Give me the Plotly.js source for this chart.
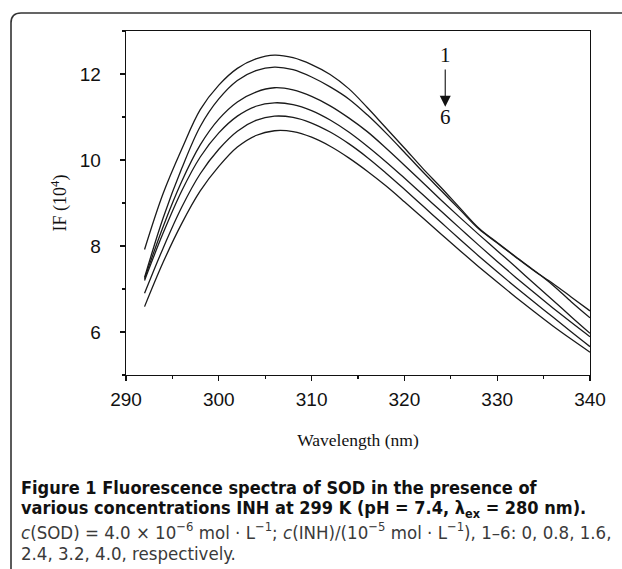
<!DOCTYPE html>
<html>
<head>
<meta charset="utf-8">
<script src="https://cdn.plot.ly/plotly-3.0.1.min.js"></script>
<style>
html,body{margin:0;padding:0;background:#fff;}
#chart{width:622px;height:569px;}
</style>
</head>
<body>
<div id="chart"></div>
<script>
// Wavelength (nm)
const wavelength = [292,294,296,298,300,302,304,306,308,310,312,314,316,318,320,322,324,326,328,330,332,334,336,338,340];
// IF (10^4), curves 1..6
const curve1 = [7.92,9.22,10.25,11.17,11.74,12.13,12.35,12.44,12.38,12.22,11.99,11.66,11.22,10.75,10.28,9.80,9.35,8.88,8.42,8.08,7.75,7.43,7.09,6.70,6.33];
const curve2 = [7.27,8.65,9.80,10.78,11.42,11.85,12.08,12.16,12.10,11.93,11.70,11.42,11.05,10.63,10.18,9.72,9.28,8.84,8.40,8.07,7.74,7.42,7.13,6.81,6.49];
const curve3 = [7.24,8.45,9.50,10.35,10.95,11.35,11.58,11.68,11.63,11.48,11.26,10.98,10.66,10.28,9.88,9.47,9.06,8.66,8.27,7.89,7.51,7.12,6.74,6.35,5.97];
const curve4 = [7.20,8.30,9.28,10.07,10.63,11.02,11.25,11.33,11.29,11.15,10.93,10.65,10.32,9.96,9.58,9.19,8.80,8.41,8.02,7.64,7.27,6.91,6.56,6.22,5.89];
const curve5 = [6.90,7.95,8.90,9.68,10.25,10.67,10.92,11.02,10.99,10.86,10.65,10.38,10.06,9.70,9.32,8.93,8.54,8.15,7.77,7.40,7.04,6.69,6.35,6.00,5.66];
const curve6 = [6.59,7.62,8.52,9.28,9.85,10.30,10.57,10.68,10.66,10.53,10.32,10.05,9.74,9.40,9.03,8.65,8.27,7.89,7.52,7.16,6.81,6.47,6.14,5.83,5.53];
const curves = [curve1,curve2,curve3,curve4,curve5,curve6];
const curveNames = ['1','2','3','4','5','6'];

const traces = curves.map((c,i)=>({
  x: wavelength, y: c, type:'scatter', mode:'lines', name: curveNames[i],
  line:{color:'#1a1a1a', width:1.3, shape:'spline', smoothing:1},
  showlegend:false, hoverinfo:'skip'
}));

// plot area in pixels
const L=126, R=590, T=31, B=375, W=622, H=569;
const px = x => (x-L)/(R-L);
const py = y => (B-y)/(B-T);
const rad = 10;
const bx = 11, by = 13;
const borderPath = `M ${px(bx)},${py(H+10)} L ${px(bx)},${py(by+rad)} Q ${px(bx)},${py(by)} ${px(bx+rad)},${py(by)} L ${px(W+10)},${py(by)}`;

const capFam = 'DejaVu Sans Condensed, Open Sans, sans-serif';
const capFont = {family:capFam, size:18, color:'#111', weight:700};
const capFont2 = {family:capFam, size:18.5, color:'#3a3a3a', weight:400};
const capX = px(19);
const axisFont = {family:'Liberation Sans, Arial, sans-serif', size:19, color:'#111'};
const serif = 'Liberation Serif, Times New Roman, serif';

const layout = {
  width:W, height:H,
  margin:{l:L, r:W-R, t:T, b:H-B, pad:0},
  paper_bgcolor:'#fff', plot_bgcolor:'#fff',
  xaxis:{
    range:[290,340], dtick:10, tick0:290,
    showgrid:false, zeroline:false,
    showline:true, linecolor:'#111', linewidth:1.3, mirror:true,
    ticks:'outside', ticklen:5, tickwidth:1.2, tickcolor:'#111',
    ticklabelstandoff:2,
    minor:{ticks:'outside', dtick:5, ticklen:3, tickwidth:1.2, tickcolor:'#111'},
    tickfont:axisFont,
    title:{text:'Wavelength (nm)', standoff:24,
      font:{family:serif, size:17.5, color:'#111'}}
  },
  yaxis:{
    range:[5,13], dtick:2, tick0:0,
    showgrid:false, zeroline:false,
    showline:true, linecolor:'#111', linewidth:1.3, mirror:true,
    ticks:'outside', ticklen:5, tickwidth:1.2, tickcolor:'#111',
    ticklabelstandoff:15,
    minor:{ticks:'outside', dtick:1, ticklen:3, tickwidth:1.2, tickcolor:'#111'},
    tickfont:axisFont,
    title:{text:'IF (10<sup>4</sup>)', standoff:8,
      font:{family:serif, size:18, color:'#111'}}
  },
  shapes:[{type:'path', xref:'paper', yref:'paper', path:borderPath,
    line:{color:'#333', width:1.6}, layer:'above'}],
  annotations:[
    {x:324.4, y:12.45, xref:'x', yref:'y', text:'1', showarrow:false,
     font:{family:serif, size:21, color:'#111'}},
    {x:324.4, y:11.01, xref:'x', yref:'y', text:'6', showarrow:false,
     font:{family:serif, size:21, color:'#111'}},
    {x:324.4, y:11.24, xref:'x', yref:'y', ax:324.4, ay:12.14, axref:'x', ayref:'y',
     text:'', showarrow:true, arrowhead:2, arrowsize:2, arrowwidth:1.1, arrowcolor:'#111'},
    {x:capX, y:py(487), xref:'paper', yref:'paper', xanchor:'left', yanchor:'middle', showarrow:false,
     text:'<b>Figure 1 Fluorescence spectra of SOD in the presence of</b>', font:capFont},
    {x:capX, y:py(509), xref:'paper', yref:'paper', xanchor:'left', yanchor:'middle', showarrow:false,
     text:'<b>various concentrations INH at 299 K (pH = 7.4, λ<sub>ex</sub> = 280 nm).</b>', font:capFont},
    {x:capX, y:py(531), xref:'paper', yref:'paper', xanchor:'left', yanchor:'middle', showarrow:false,
     text:'<i>c</i>(SOD) = 4.0 × 10<sup>−6</sup> mol · L<sup>−1</sup>; <i>c</i>(INH)/(10<sup>−5</sup> mol · L<sup>−1</sup>), 1–6: 0, 0.8, 1.6,', font:capFont2},
    {x:capX, y:py(553), xref:'paper', yref:'paper', xanchor:'left', yanchor:'middle', showarrow:false,
     text:'2.4, 3.2, 4.0, respectively.', font:capFont2}
  ]
};

Plotly.newPlot('chart', traces, layout, {staticPlot:true, displayModeBar:false});
</script>
</body>
</html>
